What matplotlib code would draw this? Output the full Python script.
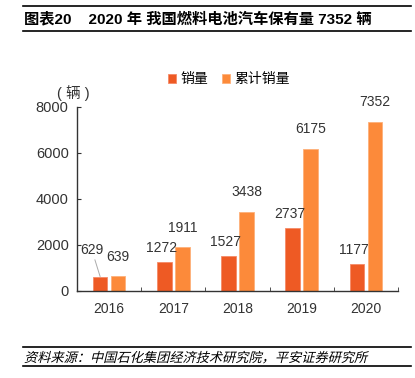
import numpy as np
import matplotlib
matplotlib.use("Agg")
import matplotlib.pyplot as plt
from matplotlib.lines import Line2D
from matplotlib.textpath import TextPath
from matplotlib.patches import PathPatch
from matplotlib.font_manager import FontProperties
from matplotlib.transforms import Affine2D, IdentityTransform

plt.rcParams['font.family'] = ['Liberation Sans', 'Noto Sans CJK SC', 'DejaVu Sans']

years = ['2016', '2017', '2018', '2019', '2020']
sales = [629, 1272, 1527, 2737, 1177]
cumulative = [639, 1911, 3438, 6175, 7352]
series_names = ['销量', '累计销量']
title = '图表20    2020 年 我国燃料电池汽车保有量 7352 辆'
source = '资料来源：中国石化集团经济技术研究院，平安证券研究所'
unit = '( 辆 )'

c_sales = '#EE5A24'
c_cum = '#FC8A3A'
text_c = '#333333'

W, H = 415, 378
fig = plt.figure(figsize=(W / 100, H / 100), dpi=100)

# header / footer rules
for y in (6, 31, 347, 366):
    fig.add_artist(Line2D([23 / W, 411 / W], [1 - y / H, 1 - y / H], color='black', lw=1.2))
fig.text(24 / W, 1 - 19 / H, title, fontsize=11, fontweight='bold', va='center', ha='left',
         family=['Liberation Sans', 'Noto Sans CJK SC'])

# italic-looking source line (CJK font has no italic, so shear the glyph outlines)
tp = TextPath((0, 0), source, size=13.2, prop=FontProperties(family='Noto Sans CJK SC'))
tr = Affine2D().skew_deg(14, 0).translate(24, H - 362)
fig.add_artist(PathPatch(tp, transform=tr + IdentityTransform(), color='black', lw=0))

ax = fig.add_axes([77 / W, 1 - 291 / H, 321 / W, 184 / H])
x = np.arange(len(years))
bw = 0.225
off = 0.14
ax.bar(x - off, sales, bw, color=c_sales, edgecolor='#F58A66', linewidth=0.6, label=series_names[0])
ax.bar(x + off, cumulative, bw, color=c_cum, edgecolor='#FDB07A', linewidth=0.6, label=series_names[1])

ax.set_xlim(-0.5, len(years) - 0.5)
ax.set_ylim(0, 8000)
ax.set_yticks(np.arange(0, 8001, 2000))
ax.set_xticks(x)
ax.set_xticklabels(years)
ax.set_xticks(np.arange(0.5, len(years), 1), minor=True)
ax.tick_params(axis='x', which='major', length=0, pad=8, labelsize=10, labelcolor=text_c)
ax.tick_params(axis='x', which='minor', direction='in', length=3, color=text_c)
ax.tick_params(axis='y', direction='in', length=3, pad=6, labelsize=10.5, labelcolor=text_c, color=text_c)
for s in ('top', 'right'):
    ax.spines[s].set_visible(False)
for s in ('left', 'bottom'):
    ax.spines[s].set_color(text_c)
    ax.spines[s].set_linewidth(1.0)

# value labels
for i, v in enumerate(sales):
    if i == 0:
        ax.annotate(str(v), xy=(i - off, v), xytext=(-0.45, v + 850), textcoords='data',
                    fontsize=10, color=text_c, ha='left', va='bottom',
                    arrowprops=dict(arrowstyle='-', color='#aaaaaa', lw=0.7,
                                    shrinkA=0, shrinkB=0), annotation_clip=False)
    else:
        ax.annotate(str(v), xy=(i - off, v), xytext=(-2, 5), textcoords='offset points',
                    fontsize=10, color=text_c, ha='center', va='bottom')
for i, v in enumerate(cumulative):
    ax.annotate(str(v), xy=(i + off, v), xytext=(0, 9), textcoords='offset points',
                fontsize=10, color=text_c, ha='center', va='bottom')

fig.text(57 / W, 1 - 93 / H, unit, fontsize=10.5, color=text_c, va='center', ha='left',
         family=['Liberation Sans', 'Noto Sans CJK SC'])

fig.legend(loc='center', bbox_to_anchor=(229 / W, 1 - 79 / H), ncol=2, frameon=False,
           handlelength=0.6, handleheight=0.6, handletextpad=0.3, columnspacing=1.0,
           prop={'family': ['Noto Sans CJK SC'], 'size': 10})

fig.savefig('out.png', dpi=100)
